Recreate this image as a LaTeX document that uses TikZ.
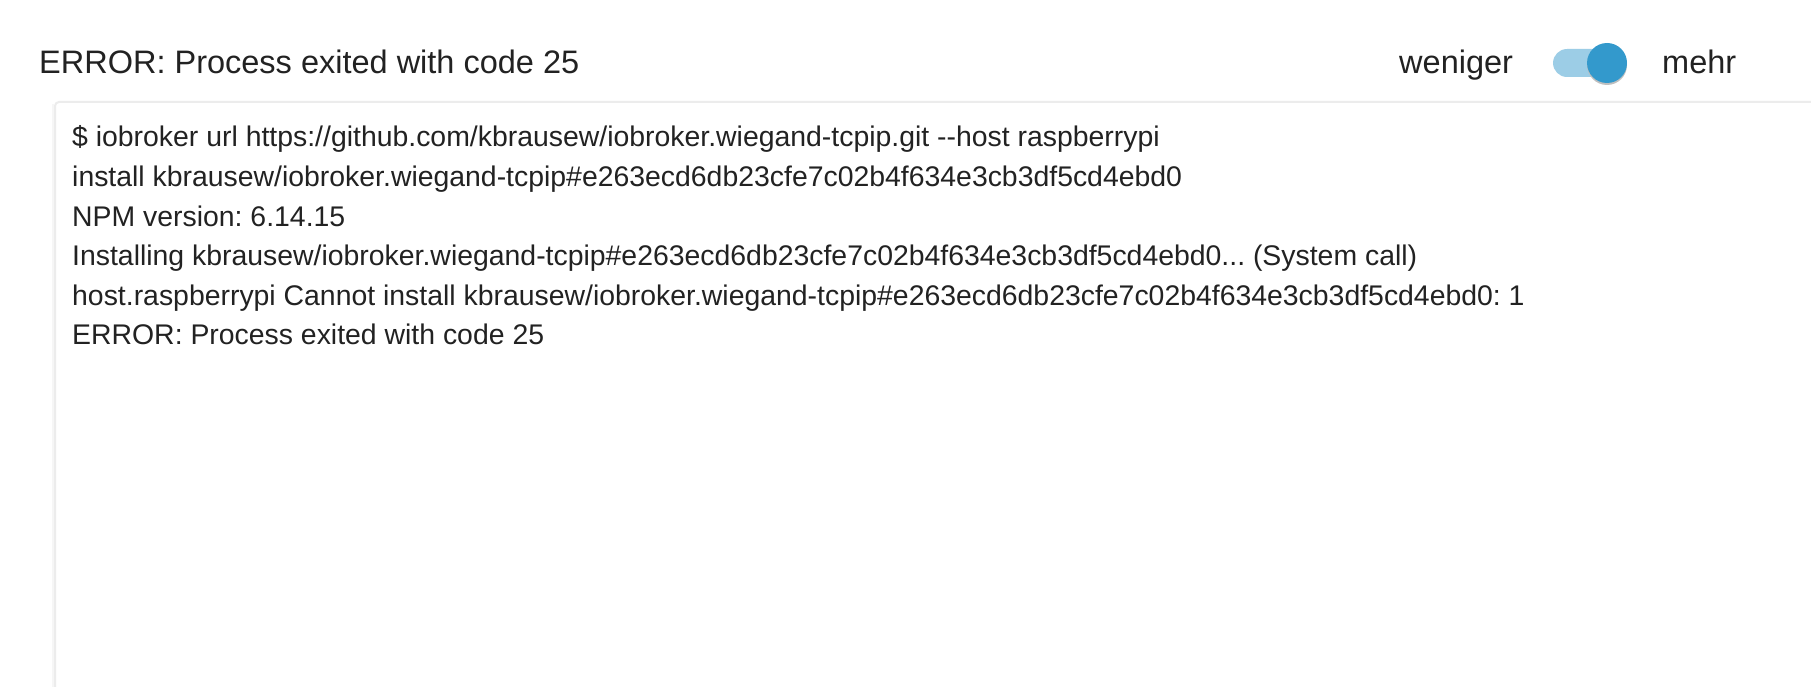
\documentclass[tikz,border=0pt]{standalone}
\usepackage{fontspec}
\setmainfont{Liberation Sans}
\definecolor{txt}{HTML}{222222}
\definecolor{track}{HTML}{9CCDE6}
\definecolor{knob}{HTML}{3399CC}
\definecolor{edge}{HTML}{ECECEC}
\tikzset{
  line/.style={anchor=base west, inner sep=0pt, text=txt, font=\fontsize{28.4}{32}\selectfont},
  head/.style={anchor=base west, inner sep=0pt, text=txt, font=\fontsize{32.5}{36}\selectfont}
}
\begin{document}
\frenchspacing
\begin{tikzpicture}[x=1pt,y=-1pt]
\useasboundingbox[fill=white] (0,0) rectangle (1811,687);
% panel
\draw[edge, line width=2pt, rounded corners=4pt] (55,700) -- (55,102) -- (1830,102);
\draw[edge!50, line width=2pt] (53,700) -- (53,104);
\node[head] (title) at (39,74) {ERROR: Process exited with code 25};
\node[head] (wen) at (1399,74) {weniger};
\node[head] (mehr) at (1662,74) {mehr};
\fill[track, rounded corners=14pt] (1553,49) rectangle (1620,77);
\fill[black!25] (1607,65) circle (20);
\fill[knob] (1607,63) circle (20);
\node[line] (l1) at (72,147) {\$ iobroker url https://github.com/kbrausew/iobroker.wiegand-tcpip.git -{}-host raspberrypi};
\node[line] (l2) at (72,186.5) {install kbrausew/iobroker.wiegand-tcpip\#e263ecd6db23cfe7c02b4f634e3cb3df5cd4ebd0};
\node[line] (l3) at (72,226) {NPM version: 6.14.15};
\node[line] (l4) at (72,265.5) {Installing kbrausew/iobroker.wiegand-tcpip\#e263ecd6db23cfe7c02b4f634e3cb3df5cd4ebd0... (System call)};
\node[line] (l5) at (72,305) {host.raspberrypi Cannot install kbrausew/iobroker.wiegand-tcpip\#e263ecd6db23cfe7c02b4f634e3cb3df5cd4ebd0: 1};
\node[line] (l6) at (72,344.5) {ERROR: Process exited with code 25};
\end{tikzpicture}
\end{document}
